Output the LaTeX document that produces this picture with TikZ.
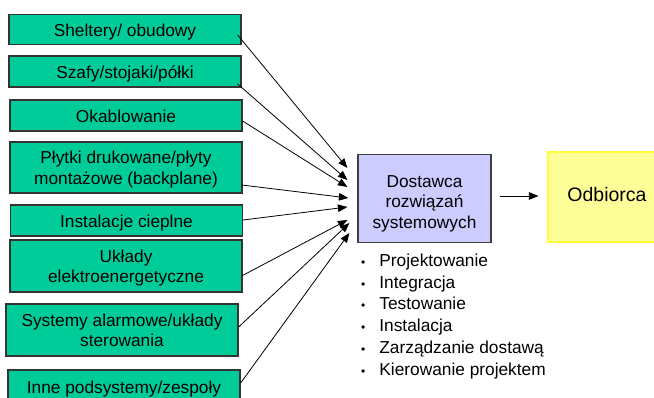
\documentclass[tikz,border=0pt]{standalone}
\usepackage{fontspec}
\setmainfont{Liberation Sans}
\usetikzlibrary{arrows.meta,calc}
\definecolor{boxgreen}{HTML}{00CC99}
\definecolor{lav}{HTML}{CCCCFF}
\definecolor{lyellow}{HTML}{FFFF99}
\definecolor{ybord}{HTML}{FFFF33}
\newcommand{\tops}{\rule{0pt}{18.5pt}}
\newcommand{\topd}{\rule{0pt}{24pt}}
\newcommand{\bots}{\rule[-5pt]{0pt}{0pt}}
\newcommand{\bsb}{\rule[-6pt]{0pt}{21pt}}
\newcommand{\smbul}{{\fontsize{12}{12}\selectfont\textbullet}\hspace{14pt}}
\begin{document}
\begin{tikzpicture}[x=1pt,y=-1pt,
  greenbox/.style={draw=black!80,line width=1.3pt,fill=boxgreen,minimum width=232pt,inner sep=0pt,align=center,
    font=\fontsize{17.3}{20.5}\selectfont},
  feed/.style={draw=black,line width=0.8pt,-{Triangle[length=9.5pt,width=7.5pt]}}]
\useasboundingbox (0,0) rectangle (654,398);
\node[greenbox,minimum height=30pt] (s1) at (125,29.5) {\tops Sheltery/ obudowy\bots};
\node[greenbox,minimum height=31pt] (s2) at (125,71.5) {\tops Szafy/stojaki/półki\bots};
\node[greenbox,minimum height=31pt] (s3) at (126,115.5) {\tops Okablowanie\bots};
\node[greenbox,minimum height=51pt] (s4) at (126,167.5) {\tops Płytki drukowane/płyty\\montażowe (backplane)\bots};
\node[greenbox,minimum height=31pt] (s5) at (126.5,220.5) {\tops Instalacje cieplne\bots};
\node[greenbox,minimum height=52pt] (s6) at (126,266) {\tops Układy\\elektroenergetyczne\bots};
\node[greenbox,minimum height=52pt] (s7) at (122,330) {\tops Systemy alarmowe/układy\\sterowania\bots};
\node[greenbox,minimum height=34pt] (s8) at (124,387) {\tops Inne podsystemy/zespoły\bots};
\node[draw=black!75,line width=1.2pt,fill=lav,minimum width=133pt,minimum height=88pt,inner sep=0pt,align=center,
  font=\fontsize{17.3}{20.3}\selectfont] (dost) at (424.5,198.5) {\topd Dostawca\\rozwiązań\\systemowych\bots};
\node[draw=ybord,line width=1.2pt,fill=lyellow,minimum width=118pt,minimum height=90pt,inner sep=0pt,
  font=\fontsize{19.5}{23}\selectfont] (odb) at (607,197) {\bsb Odbiorca};
\node[anchor=north west,inner sep=0pt,align=left,font=\fontsize{17.3}{21.8}\selectfont] (list) at (361,253.5)
  {\smbul Projektowanie\\
   \smbul Integracja\\
   \smbul Testowanie\\
   \smbul Instalacja\\
   \smbul Zarządzanie dostawą\\
   \smbul Kierowanie projektem};
\draw[feed] ($(s1.east)+(-4,5.5)$) -- ($(dost.west)+(-10,-30.5)$);
\draw[feed] ($(s2.east)+(-4,12.5)$) -- ($(dost.west)+(-10,-18.5)$);
\draw[feed] ($(s3.east)+(0,5.5)$) -- ($(dost.west)+(-10,-11.5)$);
\draw[feed] ($(s4.east)+(-1,17.5)$) -- ($(dost.west)+(-9,-0.5)$);
\draw[feed] ($(s5.east)+(0,-0.5)$) -- ($(dost.west)+(-10,8.5)$);
\draw[feed] ($(s6.east)+(-1,10)$) -- ($(dost.west)+(-10,21.5)$);
\draw[feed] ($(s7.east)+(0,-3)$) -- ($(dost.west)+(-8,24.5)$);
\draw[feed] ($(s8.east)+(0,-4)$) -- ($(dost.west)+(-8,34.5)$);
\draw[feed] ($(dost.east)+(8,-2.5)$) -- ($(odb.west)+(-9,-1)$);
\end{tikzpicture}
\end{document}
